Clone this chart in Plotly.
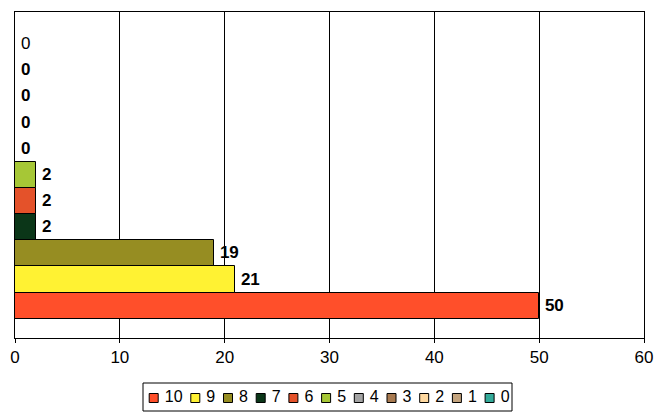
import plotly.graph_objects as go

series = ["10", "9", "8", "7", "6", "5", "4", "3", "2", "1", "0"]
values = [50, 21, 19, 2, 2, 2, 0, 0, 0, 0, 0]
colors = ["#FF4F2A", "#FFF233", "#968D22", "#0B3618", "#E4522A", "#A6C736",
          "#A3A3A3", "#A87A50", "#FFD9A0", "#C4A47E", "#33AA99"]
bold_label = [True, True, True, True, True, True, True, True, True, True, False]
x_ticks = [0, 10, 20, 30, 40, 50, 60]

FONT = "Liberation Sans, Arial, sans-serif"
W, H = 657, 412
TS = "\u2009"  # thin space

fig = go.Figure()
for name, v, c, b in zip(series, values, colors, bold_label):
    fig.add_trace(go.Bar(
        y=[name], x=[v], name=name, orientation="h", showlegend=False,
        marker=dict(color=c, line=dict(color="black", width=1)),
        text=[v], texttemplate=(TS + "<b>%{x}</b>" if b else TS + "%{x}"),
        textposition="outside", cliponaxis=False, constraintext="none",
        textfont=dict(family=FONT, size=17, color="black"),
        xaxis="x", yaxis="y",
    ))

# Custom legend row (pixel-space overlay axes), spacing derived from label lengths
leg_x0, leg_y = 153.7, 398
leg_pos = []
pos = leg_x0
for name in series:
    leg_pos.append(pos)
    pos += 23.8 + 8.9 * len(name)
for name, c, px in zip(series, colors, leg_pos):
    fig.add_trace(go.Scatter(
        x=[px], y=[leg_y], mode="markers+text", text=["\u00a0" + name],
        textposition="middle right", showlegend=False, hoverinfo="skip",
        marker=dict(symbol="square", size=9, color=c, line=dict(color="black", width=1)),
        textfont=dict(family=FONT, size=16, color="black"),
        xaxis="x2", yaxis="y2", cliponaxis=False,
    ))

fig.add_shape(type="rect", xref="x2", yref="y2", x0=143, x1=512, y0=383, y1=411,
              line=dict(color="black", width=1), fillcolor="rgba(0,0,0,0)")

fig.update_layout(
    width=W, height=H,
    margin=dict(l=0, r=0, t=0, b=0, pad=0, autoexpand=False),
    paper_bgcolor="white", plot_bgcolor="rgba(0,0,0,0)",
    barmode="overlay", bargap=0,
    showlegend=False,
    font=dict(family=FONT, size=17, color="black"),
    xaxis=dict(domain=[15 / W, 644 / W], range=[0, 60], tickvals=x_ticks,
               showgrid=True, gridcolor="black", gridwidth=1,
               showline=True, linecolor="black", linewidth=1, mirror=True,
               ticks="outside", ticklen=4, tickcolor="black", zeroline=False,
               automargin=False,
               tickfont=dict(family=FONT, size=17, color="black")),
    yaxis=dict(domain=[(H - 338) / H, (H - 12) / H],
               type="category", categoryorder="array", categoryarray=series,
               range=[-1.238, 11.219], showticklabels=False, ticks="",
               automargin=False,
               showline=True, linecolor="black", linewidth=1, mirror=True, showgrid=False),
    xaxis2=dict(domain=[0, 1], range=[0, W], visible=False, anchor="y2", fixedrange=True),
    yaxis2=dict(domain=[0, 1], range=[H, 0], visible=False, anchor="x2", fixedrange=True),
)

fig.write_html("out.html", config={"displayModeBar": False},
               post_script="document.body.style.margin='0';document.body.style.overflow='hidden';")
